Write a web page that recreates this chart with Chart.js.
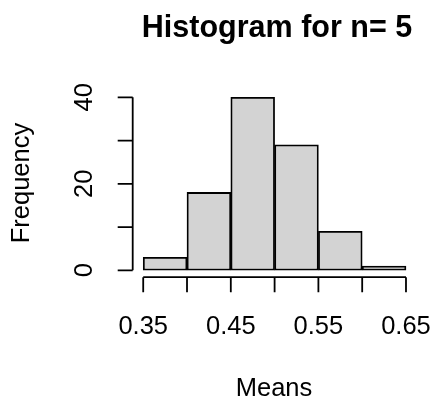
<!DOCTYPE html>
<html>
<head>
<meta charset="utf-8">
<script src="https://cdn.jsdelivr.net/npm/chart.js@4/dist/chart.umd.min.js"></script>
<style>
  html, body { margin: 0; padding: 0; background: #fff; }
  #wrap { width: 435px; height: 404px; }
</style>
</head>
<body>
<div id="wrap"><canvas id="histo" width="435" height="404"></canvas></div>
<script>
// histogram data
var breaks = [0.35, 0.40, 0.45, 0.50, 0.55, 0.60, 0.65];
var counts = [3, 18, 40, 29, 9, 1];

// axis ticks
var xTicks = [0.35, 0.40, 0.45, 0.50, 0.55, 0.60, 0.65];
var xTickLabels = ['0.35', '', '0.45', '', '0.55', '', '0.65'];
var yTicks = [0, 10, 20, 30, 40];
var yTickLabels = ['0', '', '20', '', '40'];

var mainTitle = 'Histogram for n= 5';
var xTitle = 'Means';
var yTitle = 'Frequency';

var FONT = '"Liberation Sans", Arial, Helvetica, sans-serif';

// bar centres from the breaks
var points = [];
for (var i = 0; i < counts.length; i++) {
  points.push({ x: (breaks[i] + breaks[i + 1]) / 2, y: counts[i] });
}

// R style axes (detached from the plot region)
var rAxes = {
  id: 'rAxes',
  afterDraw: function(chart) {
    var ctx = chart.ctx;
    var xs = chart.scales.x, ys = chart.scales.y;
    var area = chart.chartArea;
    var tick = 15;
    ctx.save();
    ctx.strokeStyle = '#000';
    ctx.lineWidth = 1.8;
    ctx.fillStyle = '#000';

    // x axis
    var yLine = area.bottom;
    ctx.beginPath();
    ctx.moveTo(xs.getPixelForValue(xTicks[0]), yLine);
    ctx.lineTo(xs.getPixelForValue(xTicks[xTicks.length - 1]), yLine);
    xTicks.forEach(function(v) {
      var px = xs.getPixelForValue(v);
      ctx.moveTo(px, yLine);
      ctx.lineTo(px, yLine + tick);
    });
    ctx.stroke();
    ctx.font = '25.5px ' + FONT;
    ctx.textAlign = 'center';
    ctx.textBaseline = 'middle';
    xTicks.forEach(function(v, k) {
      if (xTickLabels[k]) ctx.fillText(xTickLabels[k], xs.getPixelForValue(v), yLine + 50);
    });

    // y axis
    var xLine = area.left;
    ctx.beginPath();
    ctx.moveTo(xLine, ys.getPixelForValue(yTicks[0]));
    ctx.lineTo(xLine, ys.getPixelForValue(yTicks[yTicks.length - 1]));
    yTicks.forEach(function(v) {
      var py = ys.getPixelForValue(v);
      ctx.moveTo(xLine, py);
      ctx.lineTo(xLine - tick, py);
    });
    ctx.stroke();
    yTicks.forEach(function(v, k) {
      if (!yTickLabels[k]) return;
      ctx.save();
      ctx.translate(xLine - 48, ys.getPixelForValue(v));
      ctx.rotate(-Math.PI / 2);
      ctx.fillText(yTickLabels[k], 0, 0);
      ctx.restore();
    });

    // titles
    ctx.fillText(xTitle, 274, 389);
    ctx.save();
    ctx.translate(22, 183);
    ctx.rotate(-Math.PI / 2);
    ctx.fillText(yTitle, 0, 0);
    ctx.restore();
    ctx.font = 'bold 30.5px ' + FONT;
    ctx.fillText(mainTitle, 277, 29);
    ctx.restore();
  }
};

var ctx = document.getElementById('histo').getContext('2d');
var chart = new Chart(ctx, {
  type: 'bar',
  data: {
    datasets: [{
      data: points,
      backgroundColor: '#d3d3d3',
      borderColor: '#000',
      borderWidth: 1.8,
      borderSkipped: false,
      barPercentage: 1,
      categoryPercentage: 1
    }]
  },
  options: {
    responsive: false,
    animation: false,
    events: [],
    layout: { padding: { left: 132.7, right: 18.5, top: 90.4, bottom: 126.8 } },
    plugins: { legend: { display: false }, title: { display: false }, tooltip: { enabled: false } },
    scales: {
      x: { type: 'linear', display: false, offset: false, min: 0.338, max: 0.662 },
      y: { display: false, min: -1.6, max: 41.6 }
    }
  },
  plugins: [rAxes]
});
</script>
</body>
</html>
